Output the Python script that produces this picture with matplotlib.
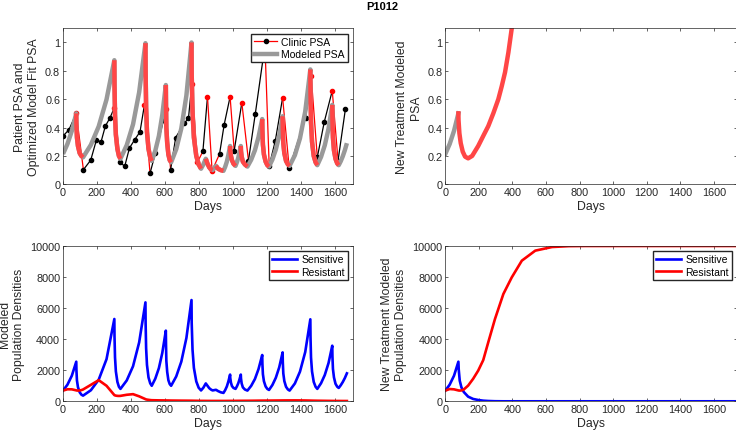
import numpy as np
import matplotlib
matplotlib.use("Agg")
import matplotlib.pyplot as plt
from matplotlib.lines import Line2D

plt.rcParams['font.family'] = ['Liberation Sans', 'DejaVu Sans']

# ---- clinic PSA (patient P1012) ----
clinic_day = [0, 35, 78, 120, 163, 196, 224, 249, 277, 302, 336, 363, 391, 422, 453, 479,
              512, 543, 591, 605, 633, 663, 713, 738, 758, 791, 823, 850, 877, 921, 948, 983,
              1007, 1052, 1091, 1131, 1188, 1213, 1249, 1292, 1331, 1427, 1460, 1496, 1537,
              1584, 1618, 1661]
clinic_psa = [0.34, 0.385, 0.50, 0.103, 0.17, 0.31, 0.30, 0.41, 0.47, 0.54, 0.155, 0.127,
              0.256, 0.315, 0.37, 0.56, 0.078, 0.218, 0.45, 0.53, 0.103, 0.33, 0.43, 0.465,
              0.71, 0.155, 0.233, 0.617, 0.096, 0.214, 0.42, 0.617, 0.237, 0.575, 0.167,
              0.495, 0.98, 0.13, 0.307, 0.61, 0.113, 0.47, 0.765, 0.19, 0.44, 0.66, 0.167,
              0.528]
clinic_on = [0, 0, 1, 0, 0, 0, 0, 0, 0, 1, 0, 0, 0, 0, 0, 1, 0, 0, 0, 1, 0, 0, 0, 0, 1, 1,
             0, 1, 1, 0, 0, 1, 0, 1, 0, 0, 1, 0, 0, 1, 0, 0, 1, 0, 0, 1, 0, 0]

# ---- fitted model (shared day grid) ----
model_day = [0, 26, 52, 78, 79, 82, 88, 98, 108, 118,
             164, 210, 256, 302, 303, 306, 311, 320, 329, 338,
             375, 412, 448, 485, 486, 489, 494, 503, 513, 522,
             543, 564, 584, 605, 606, 608, 613, 620, 628, 636,
             666, 696, 726, 756, 757, 762, 770, 784, 798, 812,
             826, 840, 850, 860, 870, 880, 900, 912, 928, 944,
             954, 964, 973, 983, 984, 988, 994, 1003, 1015,
             1023, 1031, 1038, 1046, 1047, 1051, 1058, 1070, 1085,
             1107, 1129, 1150, 1172, 1173, 1176, 1182, 1192, 1202, 1212,
             1232, 1252, 1272, 1292, 1293, 1296, 1302, 1312, 1323, 1333,
             1364, 1394, 1425, 1455, 1456, 1459, 1465, 1475, 1486, 1496,
             1518, 1540, 1562, 1584, 1585, 1588, 1594, 1603, 1613, 1622,
             1634, 1646, 1658, 1670]
model_psa = [0.214, 0.284, 0.377, 0.50, 0.42, 0.33, 0.27, 0.22, 0.20, 0.19,
             0.278, 0.408, 0.598, 0.875, 0.70, 0.49, 0.35, 0.25, 0.20, 0.18,
             0.276, 0.423, 0.649, 0.995, 0.79, 0.54, 0.37, 0.25, 0.19, 0.165,
             0.237, 0.340, 0.488, 0.70, 0.56, 0.40, 0.29, 0.21, 0.17, 0.155,
             0.247, 0.394, 0.627, 1.0, 0.78, 0.51, 0.33, 0.20, 0.14, 0.11,
             0.141, 0.18, 0.145, 0.12, 0.105, 0.10, 0.13, 0.11, 0.10, 0.095,
             0.123, 0.160, 0.208, 0.27, 0.24, 0.20, 0.17, 0.145, 0.13,
             0.156, 0.187, 0.225, 0.27, 0.235, 0.195, 0.16, 0.14, 0.125,
             0.173, 0.240, 0.332, 0.46, 0.38, 0.28, 0.21, 0.16, 0.135, 0.125,
             0.175, 0.245, 0.343, 0.48, 0.39, 0.29, 0.22, 0.165, 0.14, 0.13,
             0.205, 0.324, 0.513, 0.81, 0.64, 0.44, 0.30, 0.20, 0.155, 0.135,
             0.193, 0.275, 0.392, 0.56, 0.45, 0.33, 0.24, 0.18, 0.148, 0.135,
             0.163, 0.198, 0.240, 0.29]
sensitive = [690, 1067, 1650, 2550, 2004, 1348, 911, 584, 430, 365,
             712, 1391, 2712, 5300, 4175, 2825, 1925, 1250, 935, 800,
             1344, 2257, 3792, 6370, 5028, 3417, 2343, 1537, 1161, 1000,
             1460, 2133, 3110, 4550, 3663, 2598, 1888, 1355, 1107, 1000,
             1598, 2553, 4080, 6520, 5065, 3319, 2155, 1282, 875, 700,
             880, 1150, 1000, 850, 760, 700, 740, 660, 580, 540,
             720, 960, 1280, 1720, 1500, 1200, 980, 860, 800,
             960, 1160, 1400, 1720, 1480, 1150, 900, 760, 690,
             995, 1434, 2068, 2980, 2418, 1743, 1293, 955, 798, 730,
             1053, 1517, 2188, 3150, 2535, 1797, 1305, 936, 764, 690,
             1148, 1909, 3174, 5280, 4160, 2816, 1920, 1248, 934, 800,
             1164, 1692, 2461, 3580, 2900, 2084, 1540, 1132, 942, 860,
             1034, 1244, 1496, 1800]
resistant = [690, 775, 770, 705, 700, 695, 690, 700, 720, 760,
             1060, 1360, 1000, 400, 395, 380, 365, 350, 345, 350,
             420, 460, 320, 140, 130, 120, 110, 95, 80, 70,
             65, 60, 58, 55, 55, 54, 53, 52, 50, 48,
             45, 42, 40, 38, 38, 37, 35, 33, 30, 28,
             27, 26, 25, 25, 24, 24, 24, 24, 24, 24,
             24, 25, 26, 27, 27, 27, 28, 28, 28,
             29, 30, 31, 32, 32, 32, 33, 33, 34,
             36, 38, 41, 44, 44, 44, 45, 45, 46, 46,
             48, 50, 52, 55, 55, 55, 56, 56, 57, 57,
             58, 56, 52, 45, 45, 44, 42, 40, 38, 36,
             33, 30, 27, 25, 25, 24, 24, 23, 22, 22,
             21, 20, 20, 19]
on_start = [78, 302, 485, 605, 756, 840, 900, 983, 1046, 1172, 1292, 1455, 1584]
on_end = [118, 338, 522, 636, 812, 880, 944, 1015, 1085, 1212, 1333, 1496, 1622]

# ---- new treatment simulation ----
new_day = [0, 26, 52, 78, 79, 84, 92, 104, 118, 136, 160, 196, 230, 256, 286, 316, 336,
           356, 376, 396, 420]
new_psa = [0.214, 0.284, 0.377, 0.50, 0.45, 0.36, 0.29, 0.23, 0.195, 0.183, 0.20, 0.27,
           0.35, 0.41, 0.50, 0.60, 0.69, 0.79, 0.93, 1.10, 1.30]
new_pop_day = [0, 26, 52, 78, 80, 86, 96, 110, 136, 166, 196, 226, 256, 296, 346, 396, 456,
               536, 636, 736, 836, 1000, 1760]
new_sens = [690, 1070, 1650, 2550, 2050, 1330, 900, 600, 300, 150, 85, 40, 20, 5, 0, 0, 0,
            0, 0, 0, 0, 0, 0]
new_res = [690, 790, 770, 700, 695, 690, 700, 760, 1010, 1450, 1975, 2650, 3800, 5300, 6910,
           7980, 9055, 9700, 9935, 9990, 10000, 10000, 10000]

gray = '#999999'
mred = '#ff4646'

fig = plt.figure(figsize=(7.36, 4.35), dpi=100)
W, H = 736.0, 435.0
ax1 = fig.add_axes([63 / W, 1 - 185.3 / H, 290 / W, 156 / H])
ax2 = fig.add_axes([445.3 / W, 1 - 185.3 / H, 292 / W, 156 / H])
ax3 = fig.add_axes([63 / W, 1 - 402.3 / H, 290 / W, 155.3 / H])
ax4 = fig.add_axes([445.3 / W, 1 - 402.3 / H, 292 / W, 155.3 / H])

md = np.array(model_day)
mp = np.array(model_psa)

# top left: clinic + fitted model
for i in range(len(clinic_day) - 1):
    c = 'r' if clinic_on[i] else 'k'
    ax1.plot(clinic_day[i:i + 2], clinic_psa[i:i + 2], color=c, lw=0.9)
for i in range(len(clinic_day)):
    c = 'r' if clinic_on[i] else 'k'
    ax1.plot(clinic_day[i], clinic_psa[i], 'o', color=c, ms=3.0)
ax1.plot(md, mp, color=gray, lw=3.2, solid_capstyle='butt')
for s, e in zip(on_start, on_end):
    m = (md >= s) & (md <= e)
    ax1.plot(md[m], mp[m], color=mred, lw=3.2, solid_capstyle='butt')
ax1.set_xlim(0, 1706)
ax1.set_ylim(0, 1.1)
ax1.set_ylabel('Patient PSA and\nOptimized Model Fit PSA')
h1 = Line2D([], [], color='r', lw=0.9, marker='o', mfc='k', mec='k', ms=3.0)
h2 = Line2D([], [], color=gray, lw=3.2)
ax1.legend([h1, h2], ['Clinic PSA', 'Modeled PSA'], loc='upper right', fontsize=7.5,
           fancybox=False, edgecolor='#262626', borderaxespad=0.5, handlelength=2.2,
           borderpad=0.3, labelspacing=0.25, handletextpad=0.4, framealpha=1)

# top right: new treatment PSA
nd = np.array(new_day)
npsa = np.array(new_psa)
ax2.plot(nd[nd <= 78], npsa[nd <= 78], color=gray, lw=3.2)
ax2.plot(nd[nd >= 78], npsa[nd >= 78], color=mred, lw=3.2)
ax2.set_xlim(0, 1740)
ax2.set_ylim(0, 1.1)
ax2.set_ylabel('New Treatment Modeled\nPSA')

# bottom left: populations
ax3.plot(model_day, sensitive, color='b', lw=1.9, label='Sensitive')
ax3.plot(model_day, resistant, color='r', lw=1.9, label='Resistant')
ax3.set_xlim(0, 1706)
ax3.set_ylim(0, 10000)
ax3.set_ylabel('Modeled\nPopulation Densities')

# bottom right: new treatment populations
ax4.plot(new_pop_day, new_sens, color='b', lw=1.9, label='Sensitive')
ax4.plot(new_pop_day, new_res, color='r', lw=1.9, label='Resistant')
ax4.set_xlim(0, 1740)
ax4.set_ylim(0, 10000)
ax4.set_ylabel('New Treatment Modeled\nPopulation Densities')

for ax in (ax3, ax4):
    ax.legend(loc='upper right', fontsize=7.5, fancybox=False, edgecolor='#262626',
              borderaxespad=0.5, handlelength=2.4, borderpad=0.3, labelspacing=0.25,
              handletextpad=0.4, framealpha=1)

for ax in (ax1, ax2, ax3, ax4):
    ax.set_xticks(range(0, 1601, 200))
    ax.set_xlabel('Days', fontsize=8.8, labelpad=2, color='#262626')
    ax.yaxis.label.set_size(8.8)
    ax.yaxis.label.set_color('#262626')
    ax.tick_params(direction='in', top=True, right=True, labelsize=7.8, length=2.5,
                   width=0.5, colors='#262626', pad=2)
    for sp in ax.spines.values():
        sp.set_linewidth(0.5)
        sp.set_color('#262626')
for ax in (ax1, ax2):
    ax.set_yticks([0, 0.2, 0.4, 0.6, 0.8, 1])
    ax.set_yticklabels(['0', '0.2', '0.4', '0.6', '0.8', '1'])
for ax in (ax3, ax4):
    ax.set_yticks(range(0, 10001, 2000))

fig.text(0.519, 0.985, 'P1012', ha='center', va='center', fontsize=8, weight='bold')

fig.savefig('out.png', dpi=100)
